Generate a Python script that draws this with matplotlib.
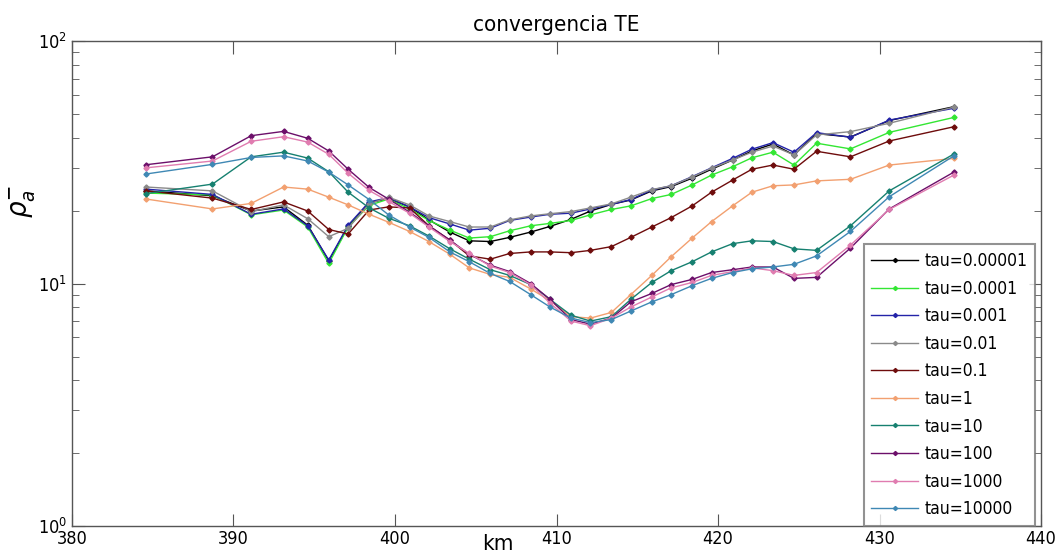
import numpy as np
import matplotlib
matplotlib.use("Agg")
import matplotlib.pyplot as plt

plt.rcParams['font.family'] = ['DejaVu Sans']
plt.rcParams['font.stretch'] = 'condensed'
plt.rcParams['mathtext.fontset'] = 'dejavusans'

# positions along the profile (km)
km = [384.6, 388.7, 391.1, 393.1, 394.6, 395.9, 397.1, 398.4, 399.6, 400.9,
      402.1, 403.4, 404.6, 405.9, 407.1, 408.4, 409.6, 410.9, 412.1, 413.4,
      414.6, 415.9, 417.1, 418.4, 419.6, 420.9, 422.1, 423.4, 424.7, 426.1,
      428.2, 430.6, 434.6]

rho_tau_1e5 = [24.1, 23.0, 19.9, 20.7, 17.4, 12.4, 17.2, 21.5, 22.4, 20.7,
               18.3, 16.3, 15.0, 14.9, 15.5, 16.3, 17.2, 18.4, 19.9, 21.2,
               22.1, 24.1, 25.1, 27.2, 29.6, 32.3, 35.2, 37.6, 33.9, 41.5,
               40.2, 47.0, 53.6]
rho_tau_1e4 = [23.6, 23.2, 19.2, 20.1, 17.1, 12.1, 17.1, 21.0, 22.3, 20.3,
               18.2, 16.6, 15.4, 15.6, 16.5, 17.3, 17.7, 18.2, 19.2, 20.2,
               20.9, 22.4, 23.3, 25.5, 28.0, 30.3, 33.0, 34.8, 30.8, 37.9,
               35.9, 42.0, 48.4]
rho_tau_1e3 = [24.5, 23.3, 19.3, 20.3, 17.3, 12.5, 17.4, 21.7, 22.6, 20.7,
               18.7, 17.6, 16.6, 16.9, 18.2, 18.8, 19.3, 19.5, 20.3, 21.2,
               22.2, 24.3, 25.3, 27.6, 30.0, 32.8, 35.8, 38.1, 34.8, 41.9,
               40.1, 47.2, 52.8]
rho_tau_1e2 = [25.0, 24.1, 19.8, 21.1, 18.5, 15.6, 16.9, 21.3, 22.7, 21.1,
               19.0, 18.0, 17.1, 17.1, 18.3, 19.0, 19.4, 19.8, 20.5, 21.3,
               22.7, 24.4, 25.3, 27.5, 29.9, 32.3, 34.8, 36.9, 33.9, 41.0,
               42.3, 45.8, 53.4]
rho_tau_1e1 = [24.1, 22.5, 20.2, 21.7, 19.9, 16.7, 16.0, 20.1, 20.7, 20.5,
               17.3, 15.1, 13.0, 12.6, 13.3, 13.5, 13.5, 13.4, 13.7, 14.2,
               15.5, 17.1, 18.7, 20.9, 23.8, 26.7, 29.6, 30.8, 29.6, 35.1,
               33.3, 38.7, 44.3]
rho_tau_1 = [22.3, 20.3, 21.4, 25.0, 24.5, 22.7, 21.1, 19.3, 17.9, 16.4,
             14.9, 13.2, 11.6, 10.9, 10.6, 9.5, 8.5, 7.3, 7.2, 7.6,
             9.0, 10.8, 12.9, 15.4, 18.0, 20.9, 23.8, 25.3, 25.5, 26.5,
             26.9, 30.8, 32.8]
rho_tau_10 = [23.5, 25.7, 33.3, 34.8, 32.9, 28.9, 23.8, 20.5, 18.6, 17.3,
              15.7, 13.9, 12.6, 11.4, 10.8, 9.9, 8.6, 7.4, 7.0, 7.3,
              8.6, 10.1, 11.3, 12.3, 13.5, 14.6, 15.0, 14.9, 13.9, 13.7,
              17.3, 24.1, 34.2]
rho_tau_100 = [30.9, 33.3, 40.7, 42.4, 39.7, 35.2, 29.6, 24.9, 22.3, 19.7,
               17.3, 15.1, 13.2, 11.9, 11.2, 10.0, 8.6, 7.1, 6.8, 7.2,
               8.4, 9.1, 9.9, 10.4, 11.1, 11.4, 11.7, 11.7, 10.5, 10.6,
               14.0, 20.3, 28.8]
rho_tau_1000 = [30.0, 32.0, 38.6, 40.3, 38.3, 34.1, 28.5, 24.2, 21.8, 19.5,
                17.1, 14.9, 13.3, 11.8, 11.1, 9.9, 8.3, 7.0, 6.7, 7.2,
                8.0, 8.8, 9.6, 10.1, 10.8, 11.2, 11.6, 11.3, 10.8, 11.1,
                14.4, 20.2, 28.0]
rho_tau_10000 = [28.3, 31.0, 33.1, 33.6, 32.0, 28.8, 25.5, 22.2, 19.2, 17.1,
                 15.5, 13.5, 12.3, 11.0, 10.2, 9.0, 8.0, 7.2, 6.9, 7.1,
                 7.7, 8.4, 9.0, 9.8, 10.5, 11.1, 11.5, 11.7, 12.0, 13.0,
                 16.4, 22.8, 33.6]

labels = ['tau=0.00001', 'tau=0.0001', 'tau=0.001', 'tau=0.01', 'tau=0.1',
          'tau=1', 'tau=10', 'tau=100', 'tau=1000', 'tau=10000']
series = [rho_tau_1e5, rho_tau_1e4, rho_tau_1e3, rho_tau_1e2, rho_tau_1e1,
          rho_tau_1, rho_tau_10, rho_tau_100, rho_tau_1000, rho_tau_10000]
colors = ['#000000', '#33e633', '#2323a8', '#8a8a8a', '#6e0c0c',
          '#f2a070', '#168070', '#6c0f6a', '#e07cb0', '#3f88b4']

fig = plt.figure(figsize=(10.58, 5.58), dpi=100)
ax = fig.add_axes([0.068, 0.0573, 0.916, 0.8692])

for y, c, lab in zip(series, colors, labels):
    ax.plot(km, y, color=c, lw=1.0, marker='D', ms=2.6, mec=c, mfc=c,
            label=lab)

ax.set_yscale('log')
ax.set_xlim(380, 440)
ax.set_ylim(1, 100)
ax.set_xticks(np.arange(380, 441, 10))

for s in ax.spines.values():
    s.set_color('#555555')
    s.set_linewidth(1.0)
ax.tick_params(which='both', direction='in', top=True, right=True,
               colors='#555555', labelcolor='black', labelsize=13)
ax.tick_params(which='major', length=9)
ax.tick_params(which='minor', length=5)
ax.tick_params(axis='x', pad=3)

ax.set_title('convergencia TE', fontsize=16, pad=7)
ax.set_xlabel('km', fontsize=16)
ax.xaxis.set_label_coords(0.44, -0.037)
ax.xaxis.label.set_va('center')
ax.set_ylabel(r'$\rho_a^{-}$', fontsize=21)
ax.yaxis.set_label_coords(-0.035, 0.67)

leg = ax.legend(loc='lower right', bbox_to_anchor=(0.994, 0.0),
                fontsize=12.5, frameon=True, fancybox=False,
                borderaxespad=0.0, handlelength=2.7, labelspacing=0.55,
                handletextpad=0.35, borderpad=0.45, markerscale=0.8)
leg.get_frame().set_edgecolor('#777777')
leg.get_frame().set_linewidth(1.5)

fig.savefig('out.png', dpi=100)
